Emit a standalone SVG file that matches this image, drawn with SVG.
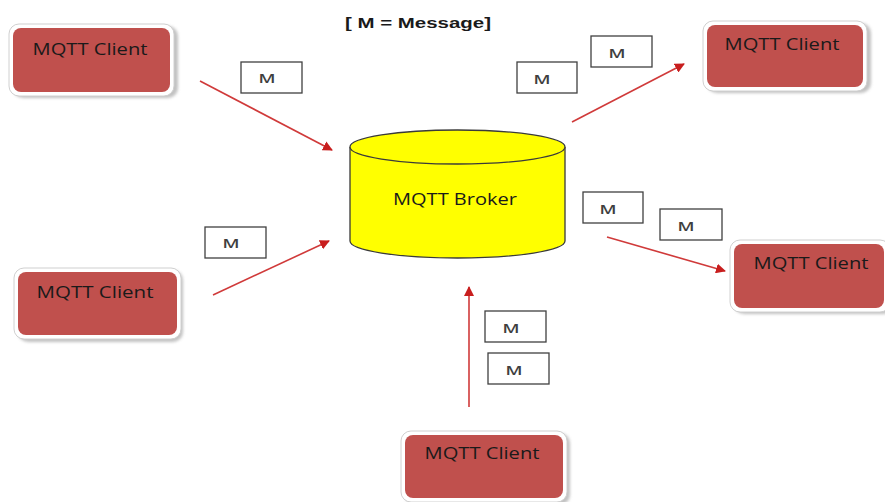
<svg xmlns="http://www.w3.org/2000/svg" width="885" height="502" viewBox="0 0 885 502">
  <defs>
    <marker id="arrowhead" viewBox="0 0 10 10" refX="9" refY="5" markerWidth="10" markerHeight="10" markerUnits="userSpaceOnUse" orient="auto">
      <path d="M0,0 L10,5 L0,10 z" fill="#c81e1e"/>
    </marker>
    <filter id="shadow" x="-10%" y="-10%" width="130%" height="140%">
      <feGaussianBlur stdDeviation="1.5"/>
    </filter>
  </defs>
  <style>
    .frame { fill: #ffffff; stroke: #d0d0d0; stroke-width: 1; }
    .shade { fill: #9a9a9a; opacity: 0.6; }
    .client { fill: #c0504d; }
    .label { font-family: "Open Sans", "Liberation Sans", sans-serif; font-size: 16px; fill: #1a1a1a; text-anchor: middle; }
    .msg { fill: #ffffff; stroke: #404040; stroke-width: 1.3; }
    .mtext { font-family: "Open Sans", "Liberation Sans", sans-serif; font-size: 13px; font-weight: 600; fill: #404040; text-anchor: middle; }
    .flow { stroke: #d03a3a; stroke-width: 1.6; fill: none; marker-end: url(#arrowhead); }
    .title { font-family: "Liberation Sans", Arial, sans-serif; font-size: 15px; font-weight: bold; fill: #1a1a1a; text-anchor: middle; }
  </style>

  <rect width="885" height="502" fill="#ffffff"/>

  <text class="title" x="418" y="28" textLength="146" lengthAdjust="spacingAndGlyphs">[ M = Message]</text>

  <!-- broker cylinder -->
  <g id="broker">
    <path d="M350,147 L350,241 A107.5,17 0 0 0 565,241 L565,147" fill="#ffff00" stroke="#3a3a3a" stroke-width="1.3"/>
    <ellipse cx="457.5" cy="147" rx="107.5" ry="17" fill="#ffff00" stroke="#3a3a3a" stroke-width="1.3"/>
    <text class="label" x="455" y="205" textLength="124" lengthAdjust="spacingAndGlyphs">MQTT Broker</text>
  </g>

  <!-- clients -->
  <g id="client-top-left">
    <rect class="shade" x="13" y="26" width="165" height="72" rx="10" filter="url(#shadow)"/>
    <rect class="frame" x="9" y="24" width="165" height="72" rx="10"/>
    <rect class="client" x="13" y="28" width="157" height="64" rx="8"/>
    <text class="label" x="90" y="55" textLength="115" lengthAdjust="spacingAndGlyphs">MQTT Client</text>
  </g>
  <g id="client-left">
    <rect class="shade" x="18" y="270" width="165" height="72" rx="10" filter="url(#shadow)"/>
    <rect class="frame" x="14" y="268" width="167" height="71" rx="10"/>
    <rect class="client" x="18" y="272" width="159" height="63" rx="8"/>
    <text class="label" x="95" y="298" textLength="117" lengthAdjust="spacingAndGlyphs">MQTT Client</text>
  </g>
  <g id="client-bottom">
    <rect class="shade" x="405" y="433" width="165" height="72" rx="10" filter="url(#shadow)"/>
    <rect class="frame" x="401" y="431" width="166" height="71" rx="10"/>
    <rect class="client" x="405" y="435" width="158" height="63" rx="8"/>
    <text class="label" x="482" y="459" textLength="115" lengthAdjust="spacingAndGlyphs">MQTT Client</text>
  </g>
  <g id="client-top-right">
    <rect class="shade" x="707" y="23" width="164" height="70" rx="10" filter="url(#shadow)"/>
    <rect class="frame" x="703" y="21" width="164" height="70" rx="10"/>
    <rect class="client" x="707" y="25" width="156" height="62" rx="8"/>
    <text class="label" x="782" y="50" textLength="115" lengthAdjust="spacingAndGlyphs">MQTT Client</text>
  </g>
  <g id="client-right">
    <rect class="shade" x="734" y="242" width="160" height="72" rx="10" filter="url(#shadow)"/>
    <rect class="frame" x="730" y="240" width="160" height="72" rx="10"/>
    <rect class="client" x="734" y="244" width="150" height="64" rx="8"/>
    <text class="label" x="811" y="269" textLength="115" lengthAdjust="spacingAndGlyphs">MQTT Client</text>
  </g>

  <!-- message tokens -->
  <g id="msg-1"><rect class="msg" x="241" y="62" width="61" height="31"/><text class="mtext" x="267" y="83" textLength="17" lengthAdjust="spacingAndGlyphs">M</text></g>
  <g id="msg-2"><rect class="msg" x="205" y="227" width="61" height="31"/><text class="mtext" x="231" y="248" textLength="17" lengthAdjust="spacingAndGlyphs">M</text></g>
  <g id="msg-3"><rect class="msg" x="517" y="62" width="60" height="31"/><text class="mtext" x="542" y="84" textLength="17" lengthAdjust="spacingAndGlyphs">M</text></g>
  <g id="msg-4"><rect class="msg" x="591" y="36" width="61" height="31"/><text class="mtext" x="617" y="58" textLength="17" lengthAdjust="spacingAndGlyphs">M</text></g>
  <g id="msg-5"><rect class="msg" x="583" y="192" width="60" height="31"/><text class="mtext" x="608" y="214" textLength="17" lengthAdjust="spacingAndGlyphs">M</text></g>
  <g id="msg-6"><rect class="msg" x="660" y="209" width="62" height="31"/><text class="mtext" x="686" y="231" textLength="17" lengthAdjust="spacingAndGlyphs">M</text></g>
  <g id="msg-7"><rect class="msg" x="485" y="311" width="61" height="31"/><text class="mtext" x="511" y="333" textLength="17" lengthAdjust="spacingAndGlyphs">M</text></g>
  <g id="msg-8"><rect class="msg" x="488" y="353" width="61" height="31"/><text class="mtext" x="514" y="375" textLength="17" lengthAdjust="spacingAndGlyphs">M</text></g>

  <!-- connectors -->
  <g id="connectors">
    <line class="flow" x1="200" y1="81" x2="332" y2="150"/>
    <line class="flow" x1="213" y1="295" x2="329" y2="241"/>
    <line class="flow" x1="469" y1="407" x2="469" y2="287"/>
    <line class="flow" x1="572" y1="122" x2="684" y2="64"/>
    <line class="flow" x1="607" y1="237" x2="725" y2="271"/>
  </g>
</svg>
